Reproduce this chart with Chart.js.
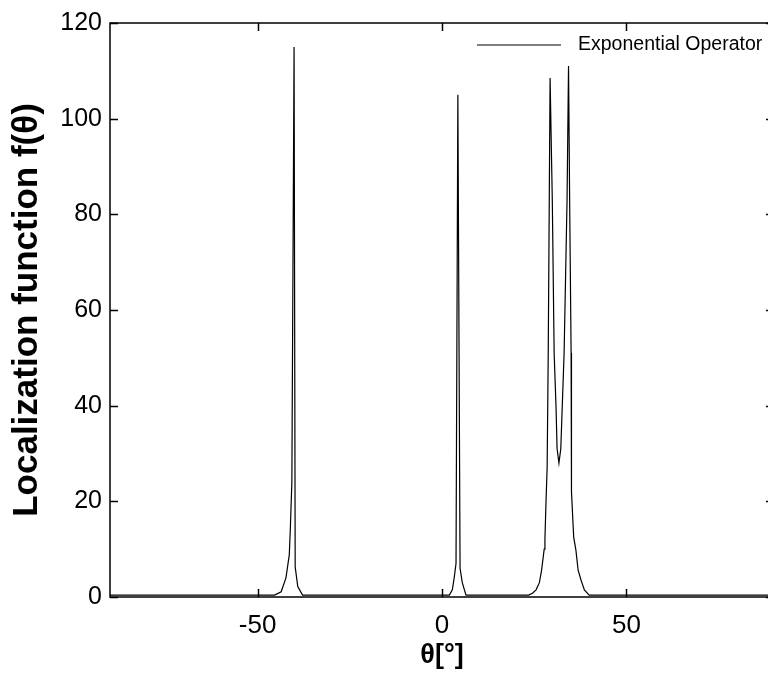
<!DOCTYPE html>
<html>
<head>
<meta charset="utf-8">
<script src="https://cdn.jsdelivr.net/npm/chart.js@4.4.1/dist/chart.umd.min.js"></script>
<style>
  html, body { margin: 0; padding: 0; background: #fff; overflow: hidden; }
  #wrap { width: 775px; height: 684px; }
</style>
</head>
<body>
<div id="wrap"><canvas id="chart" width="775" height="684"></canvas></div>
<script>
// angle samples (deg) and localization function values
const thetaDeg = [
    -90,
    -45.4, -43.6, -42.3, -41.4, -41.1, -40.7, -40.1, -39.8, -39.1, -37.8,
    2.0, 2.8, 3.3, 3.8, 4.3, 4.9, 5.5, 6.5,
    23.5, 24.5, 25.5, 26.4, 27.0, 27.7, 27.9, 28.2, 28.5, 28.8, 29.3, 29.9,
    30.4, 30.9, 31.2, 31.7, 32.2, 32.7, 33.1, 33.9, 34.3, 34.6, 35.0, 35.1,
    35.7, 36.3, 36.9, 37.7, 38.6, 39.9,
    90
];
const fTheta = [
    0.4,
    0.4, 1.1, 4, 8.8, 14.6, 24, 115, 6.3, 2.2, 0.4,
    0.4, 1.5, 4, 7, 105, 6, 3, 0.4,
    0.4, 0.8, 1.5, 3, 5.6, 10, 12, 20, 27, 51, 108.5, 83,
    51, 40, 31, 28, 31, 42, 51, 83, 111, 83, 51, 22,
    12.5, 9.8, 5.6, 3.5, 1.5, 0.4,
    0.4
];
const xTicks = [-50, 0, 50];
const yTicks = [0, 20, 40, 60, 80, 100, 120];
const seriesLabel = 'Exponential Operator';

const FONT = "'Liberation Sans', Arial, sans-serif";

// box frame, inward ticks on all four sides, and the legend
const framePlugin = {
    id: 'frame',
    afterDatasetsDraw(chart) {
        const { ctx, chartArea: a, scales: { x, y } } = chart;
        const len = 8;
        ctx.save();
        ctx.strokeStyle = '#000';
        ctx.lineWidth = 1.5;
        ctx.strokeRect(a.left, a.top, a.right - a.left, a.bottom - a.top);
        ctx.beginPath();
        xTicks.forEach(v => {
            const px = Math.round(x.getPixelForValue(v)) + 0.5;
            ctx.moveTo(px, a.bottom); ctx.lineTo(px, a.bottom - len);
            ctx.moveTo(px, a.top); ctx.lineTo(px, a.top + len);
        });
        yTicks.forEach(v => {
            const py = Math.round(y.getPixelForValue(v)) + 0.5;
            ctx.moveTo(a.left, py); ctx.lineTo(a.left + len, py);
            ctx.moveTo(a.right, py); ctx.lineTo(a.right - len, py);
        });
        ctx.stroke();

        // legend, top right inside the axes
        const ly = a.top + 22;
        ctx.lineWidth = 1.2;
        ctx.beginPath();
        ctx.moveTo(a.right - 297, ly);
        ctx.lineTo(a.right - 213, ly);
        ctx.stroke();
        ctx.fillStyle = '#000';
        ctx.font = '19.5px ' + FONT;
        ctx.textAlign = 'left';
        ctx.textBaseline = 'middle';
        ctx.fillText(seriesLabel, a.right - 196, ly);
        ctx.restore();
    }
};

new Chart(document.getElementById('chart'), {
    type: 'line',
    data: {
        datasets: [{
            label: seriesLabel,
            data: thetaDeg.map((t, i) => ({ x: t, y: fTheta[i] })),
            borderColor: '#000',
            borderWidth: 1.2,
            pointRadius: 0,
            tension: 0,
            fill: false
        }]
    },
    options: {
        responsive: false,
        animation: false,
        layout: { padding: { left: 0, right: 1, top: 21, bottom: 0 } },
        plugins: {
            legend: { display: false },
            tooltip: { enabled: false }
        },
        scales: {
            x: {
                type: 'linear',
                min: -90,
                max: 90,
                afterBuildTicks: s => { s.ticks = xTicks.map(v => ({ value: v })); },
                afterFit: s => { s.height = 87; },
                grid: { display: false, drawTicks: false },
                border: { display: false },
                ticks: { padding: 13, color: '#000', font: { family: FONT, size: 26 } },
                title: {
                    display: true,
                    text: 'θ[°]',
                    color: '#000',
                    padding: { top: 0, bottom: 12 },
                    font: { family: FONT, size: 27, weight: 'bold' }
                }
            },
            y: {
                min: 0,
                max: 120,
                afterBuildTicks: s => { s.ticks = yTicks.map(v => ({ value: v })); },
                afterFit: s => { s.width = 110; },
                grid: { display: false, drawTicks: false },
                border: { display: false },
                ticks: { padding: 8, color: '#000', font: { family: FONT, size: 25 } },
                title: {
                    display: true,
                    text: 'Localization function f(θ)',
                    color: '#000',
                    padding: { top: 6, bottom: 0 },
                    font: { family: FONT, size: 35, weight: 'bold' }
                }
            }
        }
    },
    plugins: [framePlugin]
});
</script>
</body>
</html>
